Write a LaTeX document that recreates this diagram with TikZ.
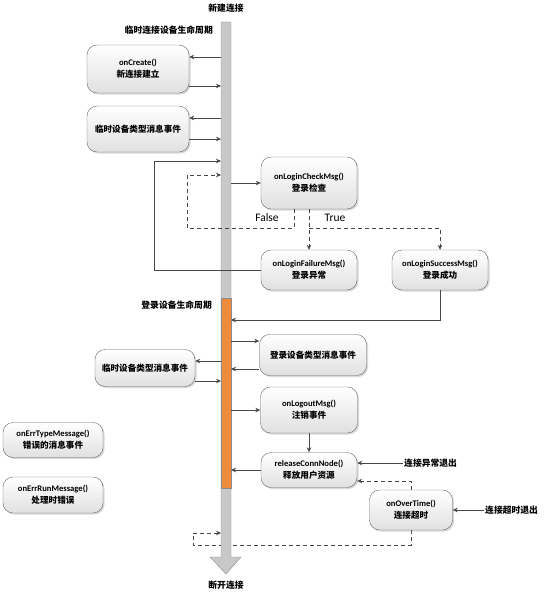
\documentclass[tikz,border=0pt]{standalone}
\usepackage{fontspec}
\setmainfont{Carlito}
\newfontfamily\cjk{Noto Sans CJK SC}
\usetikzlibrary{arrows.meta,positioning,calc,shadows,backgrounds}

\newcommand{\zh}[1]{{\cjk #1}}

\definecolor{lifegray}{RGB}{200,200,200}
\definecolor{loginorange}{RGB}{238,140,62}

\begin{document}
\begin{tikzpicture}[
    x=1pt, y=-1pt,
    evt/.style={rectangle, draw=black!60, rounded corners=10pt,
                top color=white, bottom color=black!12,
                drop shadow={opacity=0.3, shadow xshift=1.5pt, shadow yshift=-1.5pt},
                align=center, font=\fontsize{8.6}{12}\selectfont\bfseries,
                inner sep=1pt},
    lbl/.style={font=\cjk\fontsize{8.8}{10}\selectfont\bfseries, inner sep=1pt},
    tf/.style={font=\fontsize{11.5}{13}\selectfont, inner sep=1pt},
    lifeline/.style={draw=black!45, fill=lifegray},
    loginseg/.style={draw=black!45, fill=loginorange},
    arr/.style={-{Stealth[length=5pt, width=4.5pt]}, draw=black!72, semithick},
    darr/.style={arr, dash pattern=on 4pt off 3pt},
  ]

  \useasboundingbox (0,0) rectangle (554,594);

  % === Timeout exit back to lifeline (behind the bar) ===
  \node[evt, minimum width=83, minimum height=40] (overtime) at (411,510)
    {onOverTime()\\\zh{连接超时}};
  \begin{scope}[on background layer]
    \draw[darr] (overtime.south) |- (193,545) coordinate (tobot) |- (221,533);
  \end{scope}

  % === Lifeline ===
  \draw[lifeline] (221,22) coordinate (lw) -- (231,22) coordinate (le)
    -- (231,557) -- (241,557) -- (226,574) -- (210,557) -- (221,557) -- cycle;
  \draw[loginseg] (221,298) rectangle (231,488);

  \node[lbl] (newconn) at (226,8) {新建连接};
  \node[lbl] (disconn) at (226,585) {断开连接};
  \node[lbl, anchor=east] (tmplife) at (214,30) {临时连接设备生命周期};
  \node[lbl, anchor=east] (loginlife) at (213,305) {登录设备生命周期};

  % === Temporary connection ===
  \node[evt, minimum width=102, minimum height=48] (create) at (138,69)
    {onCreate()\\\zh{新连接建立}};
  \node[evt, minimum width=102, minimum height=46] (tmpmsg) at (138,129)
    {\zh{临时设备类型消息事件}};

  \draw[arr] (lw |- 0,57) -- (create.east |- 0,57);
  \draw[arr] (create.east |- 0,86) -- (lw |- 0,86);
  \draw[arr] (lw |- 0,118) -- (tmpmsg.east |- 0,118);
  \draw[arr] (tmpmsg.east |- 0,139) -- (lw |- 0,139);

  % === Login check ===
  \node[evt, minimum width=96, minimum height=52] (check) at (309,183)
    {onLoginCheckMsg()\\\zh{登录检查}};
  \node[evt, minimum width=96, minimum height=40] (fail) at (309,270)
    {onLoginFailureMsg()\\\zh{登录异常}};
  \node[evt, minimum width=96, minimum height=40] (succ) at (440,270)
    {onLoginSuccessMsg()\\\zh{登录成功}};

  \draw[arr] (le |- check.west) -- (check.west);

  % False
  \draw[darr] ([xshift=-15pt]check.south) |- (187,228) |- (lw |- 0,175);
  \node[tf] (lblfalse) at (267,218) {False};

  % True
  \coordinate (tsplit) at (check.south |- 0,228);
  \draw[darr] (check.south) -- (fail.north);
  \draw[darr] (tsplit) -| (succ.north);
  \node[tf] (lbltrue) at (335,218) {True};

  \draw[arr] (fail.west) -- ++(-107,0) |- (lw |- 0,161);
  \draw[arr] (succ.south) |- (le |- 0,320);

  % === Logged-in connection ===
  \node[evt, minimum width=107, minimum height=41] (loginmsg) at (313,355)
    {\zh{登录设备类型消息事件}};
  \node[evt, minimum width=100, minimum height=37] (tmpmsgb) at (145,368)
    {\zh{临时设备类型消息事件}};
  \node[evt, minimum width=97, minimum height=46] (logout) at (309,410)
    {onLogoutMsg()\\\zh{注销事件}};
  \node[evt, minimum width=96, minimum height=35] (release) at (309,470)
    {releaseConnNode()\\\zh{释放用户资源}};

  \draw[arr] (le |- 0,341) -- (loginmsg.west |- 0,341);
  \draw[arr] (loginmsg.west |- 0,369) -- (le |- 0,369);
  \draw[arr] (lw |- 0,361) -- (tmpmsgb.east |- 0,361);
  \draw[arr] (tmpmsgb.east |- 0,381) -- (lw |- 0,381);
  \draw[arr] (le |- logout.west) -- (logout.west);
  \draw[arr] (logout.south) -- (release.north);
  \draw[arr] (release.west) -- (le |- release.west);

  % === Exits ===
  \node[lbl, anchor=west] (exitabn) at (403,463) {连接异常退出};
  \node[lbl, anchor=west] (exitto) at (484,510) {连接超时退出};

  \draw[arr] (exitabn.west) -- (release.east |- exitabn.west);
  \draw[darr] (overtime.north) |- (release.east |- 0,481);
  \draw[arr] (exitto.west) -- (overtime.east);

  % === Error handlers ===
  \node[evt, minimum width=100, minimum height=35] (errtype) at (53,440)
    {onErrTypeMessage()\\\zh{错误的消息事件}};
  \node[evt, minimum width=100, minimum height=36] (errrun) at (53,495)
    {onErrRunMessage()\\\zh{处理时错误}};

\end{tikzpicture}
\end{document}
